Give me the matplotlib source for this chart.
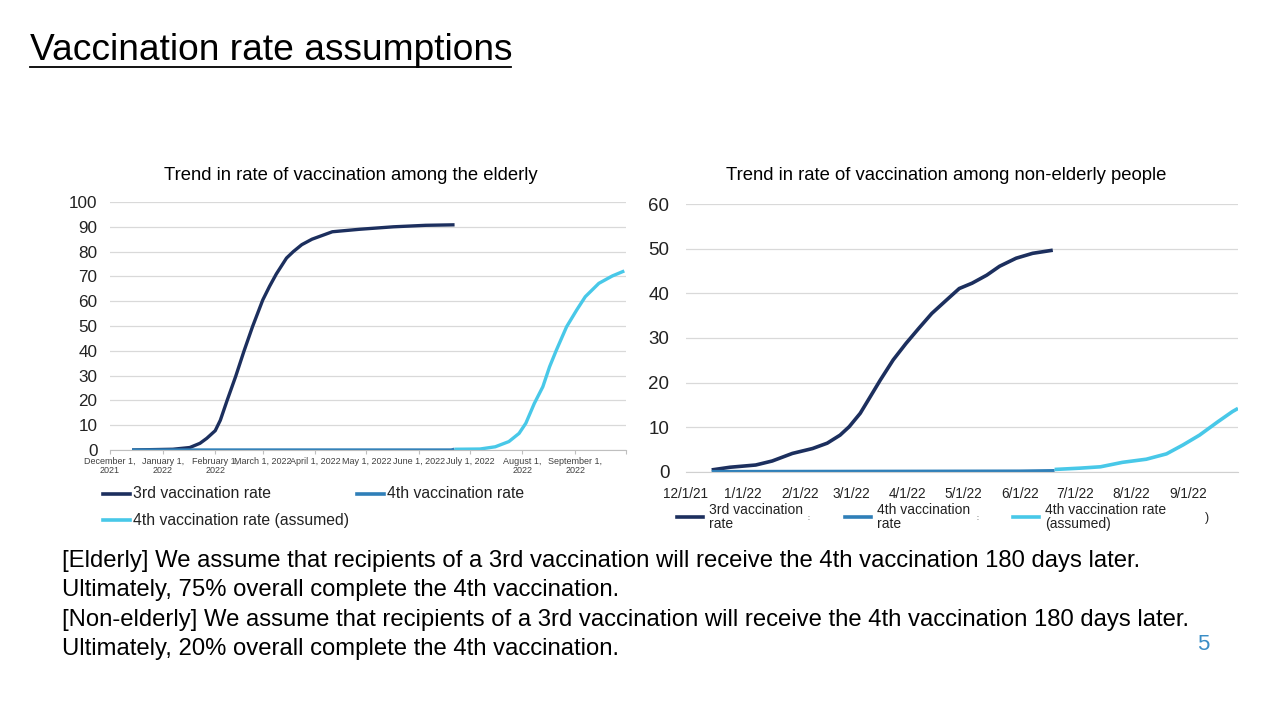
import matplotlib
matplotlib.use("Agg")
import matplotlib.pyplot as plt
from matplotlib.lines import Line2D
import pandas as pd

plt.rcParams['font.family'] = ['Liberation Sans', 'DejaVu Sans']

# ---------------- data ----------------
# Elderly chart
eld_3rd_dates = ["2021-12-14", "2022-01-07", "2022-01-17", "2022-01-23", "2022-01-27", "2022-02-01",
                 "2022-02-04", "2022-02-08", "2022-02-13", "2022-02-18", "2022-02-23", "2022-03-01",
                 "2022-03-05", "2022-03-09", "2022-03-15", "2022-03-19", "2022-03-24", "2022-03-30",
                 "2022-04-11", "2022-04-27", "2022-05-17", "2022-06-05", "2022-06-22"]
eld_3rd_vals = [0, 0.3, 1.0, 2.7, 4.7, 7.8, 12, 20, 29.6, 40, 49.8, 60.5, 66, 71, 77.4, 80, 82.8,
                85, 88, 89, 90, 90.6, 90.8]
eld_4th_dates = ["2021-12-14", "2022-06-20", "2022-06-22"]
eld_4th_vals = [0, 0, 0.3]
eld_4th_ass_dates = ["2022-06-22", "2022-07-07", "2022-07-16", "2022-07-24", "2022-07-30", "2022-08-03",
                     "2022-08-08", "2022-08-13", "2022-08-17", "2022-08-21", "2022-08-27", "2022-09-02",
                     "2022-09-07", "2022-09-15", "2022-09-23", "2022-09-30"]
eld_4th_ass_vals = [0.3, 0.4, 1.3, 3.4, 6.7, 10.8, 18.8, 25.5, 33.6, 40.3, 49.7, 56.5, 61.8, 67.2,
                    70.2, 72.2]
eld_tick_dates = ["2021-12-01", "2022-01-01", "2022-02-01", "2022-03-01", "2022-04-01", "2022-05-01",
                  "2022-06-01", "2022-07-01", "2022-08-01", "2022-09-01", "2022-10-01"]
eld_tick_labels = ["December 1,\n2021", "January 1,\n2022", "February 1,\n2022", "March 1, 2022",
                   "April 1, 2022", "May 1, 2022", "June 1, 2022", "July 1, 2022", "August 1,\n2022",
                   "September 1,\n2022", ""]
eld_yticks = [0, 10, 20, 30, 40, 50, 60, 70, 80, 90, 100]

# Non-elderly chart
non_3rd_dates = ["2021-12-15", "2021-12-25", "2022-01-08", "2022-01-17", "2022-01-28", "2022-02-08",
                 "2022-02-16", "2022-02-23", "2022-02-28", "2022-03-06", "2022-03-11", "2022-03-17",
                 "2022-03-24", "2022-03-31", "2022-04-07", "2022-04-14", "2022-04-22", "2022-04-29",
                 "2022-05-06", "2022-05-14", "2022-05-21", "2022-05-30", "2022-06-08", "2022-06-19"]
non_3rd_vals = [0.4, 1.0, 1.5, 2.4, 4.1, 5.2, 6.4, 8.2, 10.1, 13.1, 16.5, 20.6, 25.1, 28.8, 32.2,
                35.5, 38.5, 41.1, 42.3, 44.1, 46.1, 47.9, 49.0, 49.7]
non_4th_dates = ["2021-12-15", "2022-06-01", "2022-06-20"]
non_4th_vals = [0, 0.1, 0.2]
non_4th_ass_dates = ["2022-06-20", "2022-07-04", "2022-07-15", "2022-07-27", "2022-08-09", "2022-08-20",
                     "2022-08-29", "2022-09-07", "2022-09-17", "2022-09-25", "2022-09-28"]
non_4th_ass_vals = [0.5, 0.8, 1.1, 2.1, 2.8, 4.0, 6.0, 8.2, 11.2, 13.5, 14.2]
non_tick_dates = ["2021-12-01", "2022-01-01", "2022-02-01", "2022-03-01", "2022-04-01", "2022-05-01",
                  "2022-06-01", "2022-07-01", "2022-08-01", "2022-09-01"]
non_tick_labels = ["12/1/21", "1/1/22", "2/1/22", "3/1/22", "4/1/22", "5/1/22", "6/1/22", "7/1/22",
                   "8/1/22", "9/1/22"]
non_yticks = [0, 10, 20, 30, 40, 50, 60]

series_names = ["3rd vaccination rate", "4th vaccination rate", "4th vaccination rate (assumed)"]
right_leg_names = ["3rd vaccination\nrate", "4th vaccination\nrate", "4th vaccination rate\n(assumed)"]

C_DARK = "#1C2F5E"
C_MID = "#2F7FB8"
C_CYAN = "#48C8E8"
C_GRID = "#D9D9D9"

d = pd.to_datetime

fig = plt.figure(figsize=(12.8, 7.2), dpi=100)

# ---------------- page text ----------------
fig.text(30 / 1280, 1 - 50 / 720, "Vaccination rate assumptions", fontsize=26.7, va="center", ha="left",
         color="black")
fig.add_artist(Line2D([30 / 1280, 511 / 1280], [1 - 67 / 720, 1 - 67 / 720], color="black", lw=1.3))

body = ["[Elderly] We assume that recipients of a 3rd vaccination will receive the 4th vaccination 180 days later.",
        "Ultimately, 75% overall complete the 4th vaccination.",
        "[Non-elderly] We assume that recipients of a 3rd vaccination will receive the 4th vaccination 180 days later.",
        "Ultimately, 20% overall complete the 4th vaccination."]
for txt, yy in zip(body, [561, 590, 620, 649]):
    fig.text(62 / 1280, 1 - yy / 720, txt, fontsize=17.2, va="center", ha="left", color="black")
fig.text(1203 / 1280, 1 - 645 / 720, "5", fontsize=16, va="center", ha="center", color="#3A8DC6")

# ---------------- left chart ----------------
ax1 = fig.add_axes([110 / 1280, 1 - 450 / 720, 516 / 1280, 248 / 720])
ax1.plot(d(eld_3rd_dates), eld_3rd_vals, color=C_DARK, lw=2.4, solid_capstyle="butt")
ax1.plot(d(eld_4th_dates), eld_4th_vals, color=C_MID, lw=2.4, solid_capstyle="butt")
ax1.plot(d(eld_4th_ass_dates), eld_4th_ass_vals, color=C_CYAN, lw=2.4, solid_capstyle="butt")
ax1.set_xlim(d("2021-12-01"), d("2022-10-01"))
ax1.set_ylim(0, 100)
ax1.set_yticks(eld_yticks)
ax1.tick_params(axis="y", length=0, pad=9, labelsize=12.3, labelcolor="#222222")
ax1.set_xticks(d(eld_tick_dates))
ax1.set_xticklabels(eld_tick_labels, fontsize=6.5, color="#404040", linespacing=1.0)
ax1.tick_params(axis="x", length=3, color="#BFBFBF", pad=2)
ax1.grid(axis="y", color=C_GRID, lw=0.9)
ax1.set_axisbelow(True)
for s in ["top", "right", "left"]:
    ax1.spines[s].set_visible(False)
ax1.spines["bottom"].set_color("#BFBFBF")
fig.text(351 / 1280, 1 - 176 / 720, "Trend in rate of vaccination among the elderly", fontsize=13.3,
         ha="center", va="center")

# left legend
for (x0, yy, name, col) in [(103, 494, series_names[0], C_DARK), (357, 494, series_names[1], C_MID),
                            (103, 520, series_names[2], C_CYAN)]:
    fig.add_artist(Line2D([x0 / 1280, (x0 + 27) / 1280], [1 - yy / 720, 1 - yy / 720], color=col, lw=2.6))
    fig.text((x0 + 30) / 1280, 1 - yy / 720, name, fontsize=11.3, va="center", ha="left", color="#222222")

# ---------------- right chart ----------------
ax2 = fig.add_axes([686 / 1280, 1 - 471.7 / 720, 552 / 1280, 267.4 / 720])
ax2.plot(d(non_3rd_dates), non_3rd_vals, color=C_DARK, lw=2.6, solid_capstyle="butt")
ax2.plot(d(non_4th_dates), non_4th_vals, color=C_MID, lw=2.6, solid_capstyle="butt")
ax2.plot(d(non_4th_ass_dates), non_4th_ass_vals, color=C_CYAN, lw=2.6, solid_capstyle="butt")
ax2.set_xlim(d("2021-12-01"), d("2022-09-28"))
ax2.set_ylim(0, 60)
ax2.set_yticks(non_yticks)
ax2.tick_params(axis="y", length=0, pad=12, labelsize=13.5, labelcolor="#222222")
ax2.set_xticks(d(non_tick_dates))
ax2.set_xticklabels(non_tick_labels, fontsize=9.8, color="#222222")
ax2.tick_params(axis="x", length=0, pad=11)
ax2.grid(axis="y", color=C_GRID, lw=0.9)
ax2.set_axisbelow(True)
for s in ["top", "right", "left"]:
    ax2.spines[s].set_visible(False)
ax2.spines["bottom"].set_color("#D0D0D0")
fig.text(946 / 1280, 1 - 176 / 720, "Trend in rate of vaccination among non-elderly people", fontsize=13.3,
         ha="center", va="center")

# right legend
for (x0, name, col) in [(677, right_leg_names[0], C_DARK), (845, right_leg_names[1], C_MID),
                        (1013, right_leg_names[2], C_CYAN)]:
    fig.add_artist(Line2D([x0 / 1280, (x0 + 26) / 1280], [1 - 517 / 720, 1 - 517 / 720], color=col, lw=2.6))
    fig.text((x0 + 32) / 1280, 1 - 517 / 720, name, fontsize=10, va="center", ha="left", color="#222222",
             linespacing=1.0)
for (xx, ch, fs) in [(808, ":", 5), (977, ":", 5), (1207, ")", 9)]:
    fig.text(xx / 1280, 1 - 518 / 720, ch, fontsize=fs, va="center", ha="center", color="#222222")

fig.savefig("out.png", dpi=100)
